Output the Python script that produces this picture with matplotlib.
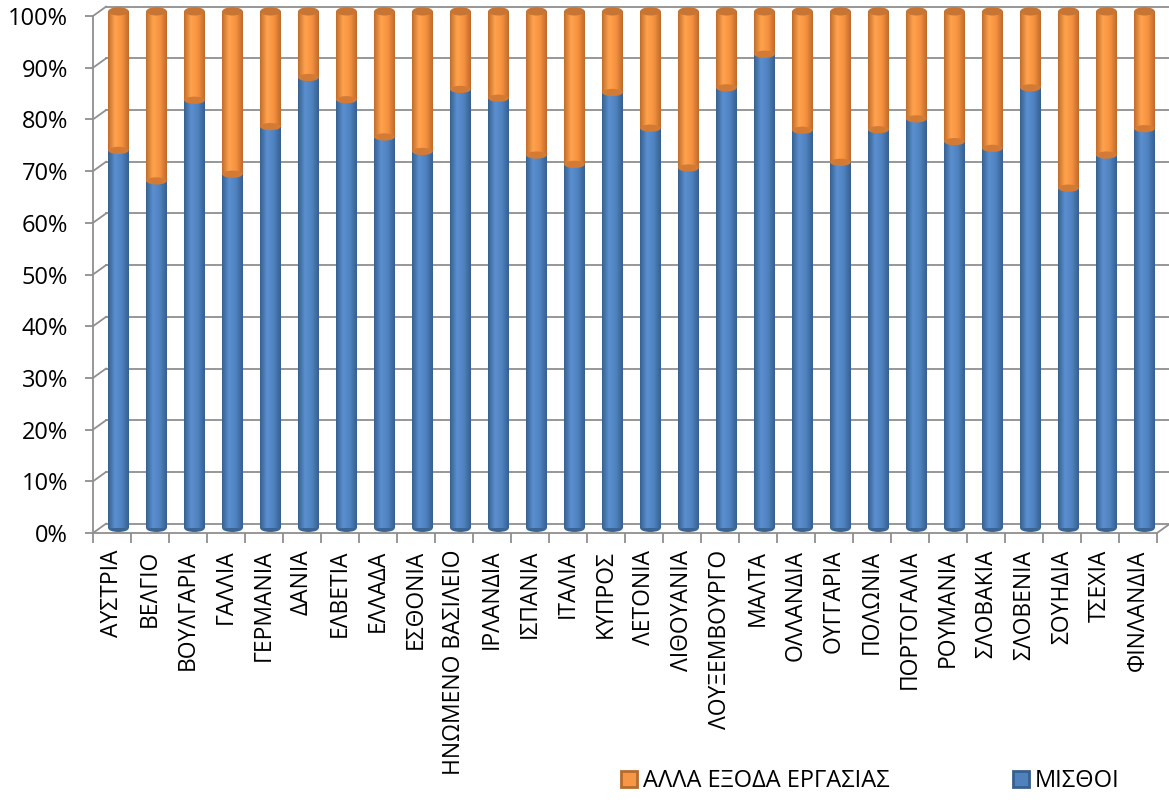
import matplotlib
matplotlib.use("Agg")
import matplotlib.pyplot as plt
import numpy as np
from matplotlib.colors import LinearSegmentedColormap
from matplotlib.patches import Rectangle, Ellipse, Patch
import matplotlib.transforms as mtransforms

plt.rcParams['font.family'] = ['Open Sans', 'DejaVu Sans']

countries = ["ΑΥΣΤΡΙΑ", "ΒΕΛΓΙΟ", "ΒΟΥΛΓΑΡΙΑ", "ΓΑΛΛΙΑ", "ΓΕΡΜΑΝΙΑ", "ΔΑΝΙΑ",
             "ΕΛΒΕΤΙΑ", "ΕΛΛΑΔΑ", "ΕΣΘΟΝΙΑ", "ΗΝΩΜΕΝΟ ΒΑΣΙΛΕΙΟ", "ΙΡΛΑΝΔΙΑ",
             "ΙΣΠΑΝΙΑ", "ΙΤΑΛΙΑ", "ΚΥΠΡΟΣ", "ΛΕΤΟΝΙΑ", "ΛΙΘΟΥΑΝΙΑ", "ΛΟΥΞΕΜΒΟΥΡΓΟ",
             "ΜΑΛΤΑ", "ΟΛΛΑΝΔΙΑ", "ΟΥΓΓΑΡΙΑ", "ΠΟΛΩΝΙΑ", "ΠΟΡΤΟΓΑΛΙΑ", "ΡΟΥΜΑΝΙΑ",
             "ΣΛΟΒΑΚΙΑ", "ΣΛΟΒΕΝΙΑ", "ΣΟΥΗΔΙΑ", "ΤΣΕΧΙΑ", "ΦΙΝΛΑΝΔΙΑ"]
wages = [73.1, 67.2, 82.8, 68.5, 77.7, 87.2, 82.9, 75.7, 72.9, 84.9, 83.2,
         72.2, 70.4, 84.3, 77.4, 69.7, 85.2, 91.7, 77.0, 70.8, 77.1, 79.2,
         74.8, 73.5, 85.2, 65.8, 72.2, 77.3]
other = [100 - w for w in wages]
series_names = ["ΑΛΛΑ ΕΞΟΔΑ ΕΡΓΑΣΙΑΣ", "ΜΙΣΘΟΙ"]
yticks = [0, 10, 20, 30, 40, 50, 60, 70, 80, 90, 100]
ytick_labels = [f"{t}%" for t in yticks]

W, H = 1169, 805
fig = plt.figure(figsize=(W / 100, H / 100), dpi=100)
ax_l, ax_r = 93, 1157
ax_b, ax_t = 533, 6.7
ax = fig.add_axes([ax_l / W, (H - ax_b) / H, (ax_r - ax_l) / W, (ax_b - ax_t) / H])
n = len(countries)
dy = 1.8          # depth offset in % units
dxf = 13 / (ax_r - ax_l)  # depth offset in axes fraction
ax.set_xlim(-0.5, n - 0.5)
ax.set_ylim(0, 100 + dy)
for s in ax.spines.values():
    s.set_visible(False)

grid_c = "#8f8f8f"
trans = mtransforms.blended_transform_factory(ax.transAxes, ax.transData)
for t in yticks:
    ax.plot([dxf, 1 + dxf], [t + dy, t + dy], color=grid_c, lw=1.3, transform=trans, clip_on=False, zorder=1)
    ax.plot([0, dxf], [t, t + dy], color=grid_c, lw=1.3, transform=trans, clip_on=False, zorder=1)
ax.plot([0, 0], [0, 100], color=grid_c, lw=1.3, transform=trans, clip_on=False, zorder=1)
ax.plot([0, 1], [0, 0], color=grid_c, lw=1.3, transform=trans, clip_on=False, zorder=1)
ax.plot([1, 1 + dxf], [0, dy], color=grid_c, lw=1.3, transform=trans, clip_on=False, zorder=1)

blue_cmap = LinearSegmentedColormap.from_list("b", ["#36608f", "#5b8fd0", "#4f82c0", "#36608f"])
orange_cmap = LinearSegmentedColormap.from_list("o", ["#c06e2c", "#ffa24e", "#f6923f", "#bd6b2a"])
grad = np.linspace(0, 1, 64).reshape(1, -1)

bw = 0.54
xoff = 0.17
base = dy / 2
for i in range(n):
    x0 = i + xoff - bw / 2
    segs = [(base, wages[i], blue_cmap), (base + wages[i], other[i], orange_cmap)]
    for y0, h, cm in segs:
        rect = Rectangle((x0, y0), bw, h, facecolor="none", edgecolor="none")
        ax.add_patch(rect)
        im = ax.imshow(grad, cmap=cm, extent=[x0, x0 + bw, y0, y0 + h], aspect="auto",
                       interpolation="bilinear", zorder=3)
        im.set_clip_path(rect)
    ax.add_patch(Ellipse((i + xoff, base + wages[i]), bw, 1.4, facecolor="#d37a35", edgecolor="none", zorder=4))
    ax.add_patch(Ellipse((i + xoff, base + 100), bw, 1.6, facecolor="#c87533", edgecolor="none", zorder=4))
    ax.add_patch(Ellipse((i + xoff, base), bw, 1.4, facecolor="#3a6494", edgecolor="none", zorder=2))

ax.set_xlim(-0.5, n - 0.5)
ax.set_ylim(0, 100 + dy)

ax.set_yticks(yticks)
ax.set_yticklabels(ytick_labels, fontsize=17)
ax.tick_params(axis="y", length=6, width=1.3, color=grid_c, pad=12)

ax.set_xticks(np.arange(-0.5, n, 1.0))
ax.set_xticklabels([])
ax.tick_params(axis="x", which="major", length=7, width=1.3, color=grid_c)
ax.set_xticks(np.arange(n), minor=True)
ax.set_xticklabels(countries, minor=True, rotation=90, fontsize=16.5)
ax.tick_params(axis="x", which="minor", length=0, pad=12)

handles = [Patch(facecolor="#f79646", edgecolor="#b86a2b", lw=2),
           Patch(facecolor="#4f81bd", edgecolor="#36608f", lw=2)]
fig.legend(handles, series_names, loc="lower left", bbox_to_anchor=(0.513, -0.012), ncol=2,
           frameon=False, fontsize=17, handlelength=0.7, handleheight=0.7, handletextpad=0.25,
           columnspacing=5.2)

fig.savefig("out.png", dpi=100)
